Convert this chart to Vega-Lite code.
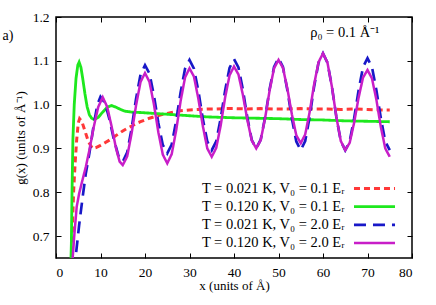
{
  "$schema": "https://vega.github.io/schema/vega-lite/v6.json",
  "width": 356,
  "height": 241,
  "autosize": {"type": "none"},
  "padding": {"left": 56, "top": 17, "right": 24, "bottom": 47},
  "config": {
    "font": "Liberation Serif",
    "view": {"stroke": "black", "strokeWidth": 1.5},
    "axis": {"grid": false, "domain": false, "tickColor": "black", "tickSize": -5, "tickWidth": 1, "labelFont": "Liberation Serif", "titleFont": "Liberation Serif", "labelFontSize": 13.5, "labelColor": "black", "titleFontSize": 13, "titleFontWeight": "normal", "titleColor": "black", "labelPadding": 12},
    "legend": {"labelFont": "Liberation Serif"},
    "text": {"font": "Liberation Serif"}
  },
  "resolve": {"axis": {"x": "independent", "y": "independent"}},
  "layer": [
    {
      "data": {"values": [
        {"s":"a","x":3.5,"y":0.64},{"s":"a","x":3.75,"y":0.737},{"s":"a","x":3.95,"y":0.8},{"s":"a","x":4.3,"y":0.867},{"s":"a","x":4.65,"y":0.92},{"s":"a","x":5.0,"y":0.958},{"s":"a","x":5.3,"y":0.968},{"s":"a","x":5.8,"y":0.962},{"s":"a","x":6.5,"y":0.94},{"s":"a","x":7.3,"y":0.915},{"s":"a","x":8.2,"y":0.9},{"s":"a","x":9,"y":0.902},{"s":"a","x":10,"y":0.907},{"s":"a","x":11,"y":0.913},{"s":"a","x":12,"y":0.919},{"s":"a","x":13,"y":0.926},{"s":"a","x":14,"y":0.933},{"s":"a","x":15,"y":0.94},{"s":"a","x":16,"y":0.946},{"s":"a","x":17,"y":0.951},{"s":"a","x":18,"y":0.957},{"s":"a","x":19,"y":0.961},{"s":"a","x":20,"y":0.965},{"s":"a","x":21,"y":0.969},{"s":"a","x":22,"y":0.972},{"s":"a","x":23,"y":0.975},{"s":"a","x":24,"y":0.978},{"s":"a","x":25,"y":0.98},{"s":"a","x":26,"y":0.982},{"s":"a","x":27,"y":0.984},{"s":"a","x":28,"y":0.986},{"s":"a","x":29,"y":0.987},{"s":"a","x":30,"y":0.988},{"s":"a","x":32,"y":0.989},{"s":"a","x":34,"y":0.99},{"s":"a","x":36,"y":0.99},{"s":"a","x":38,"y":0.991},{"s":"a","x":40,"y":0.991},{"s":"a","x":43,"y":0.99},{"s":"a","x":46,"y":0.991},{"s":"a","x":49,"y":0.99},{"s":"a","x":52,"y":0.99},{"s":"a","x":55,"y":0.991},{"s":"a","x":58,"y":0.99},{"s":"a","x":61,"y":0.99},{"s":"a","x":64,"y":0.989},{"s":"a","x":67,"y":0.99},{"s":"a","x":70,"y":0.989},{"s":"a","x":73,"y":0.988},{"s":"a","x":75,"y":0.988},

        {"s":"b","x":3.3,"y":0.62},{"s":"b","x":3.45,"y":0.68},{"s":"b","x":3.6,"y":0.8},{"s":"b","x":3.8,"y":0.92},{"s":"b","x":4.1,"y":1.0},{"s":"b","x":4.5,"y":1.06},{"s":"b","x":4.9,"y":1.09},{"s":"b","x":5.2,"y":1.097},{"s":"b","x":5.6,"y":1.085},{"s":"b","x":6.0,"y":1.06},{"s":"b","x":6.5,"y":1.025},{"s":"b","x":7.0,"y":0.995},{"s":"b","x":7.5,"y":0.977},{"s":"b","x":8.0,"y":0.969},{"s":"b","x":8.6,"y":0.966},{"s":"b","x":9.5,"y":0.971},{"s":"b","x":10.5,"y":0.983},{"s":"b","x":11.5,"y":0.994},{"s":"b","x":12.5,"y":0.998},{"s":"b","x":13.5,"y":0.994},{"s":"b","x":14.5,"y":0.989},{"s":"b","x":15.5,"y":0.985},{"s":"b","x":17,"y":0.983},{"s":"b","x":19,"y":0.982},{"s":"b","x":22,"y":0.98},{"s":"b","x":25,"y":0.978},{"s":"b","x":28,"y":0.976},{"s":"b","x":31,"y":0.974},{"s":"b","x":34,"y":0.972},{"s":"b","x":37,"y":0.971},{"s":"b","x":40,"y":0.97},{"s":"b","x":45,"y":0.969},{"s":"b","x":50,"y":0.968},{"s":"b","x":55,"y":0.966},{"s":"b","x":60,"y":0.965},{"s":"b","x":65,"y":0.963},{"s":"b","x":70,"y":0.962},{"s":"b","x":75,"y":0.961},

        {"s":"c","x":4.2,"y":0.62},{"s":"c","x":4.5,"y":0.66},{"s":"c","x":5.2,"y":0.725},{"s":"c","x":6,"y":0.79},{"s":"c","x":6.7,"y":0.843},{"s":"c","x":7.5,"y":0.889},{"s":"c","x":8.5,"y":0.955},{"s":"c","x":9.3,"y":1.0},{"s":"c","x":10,"y":1.018},{"s":"c","x":11,"y":1.004},{"s":"c","x":12,"y":0.967},{"s":"c","x":13,"y":0.921},{"s":"c","x":14,"y":0.884},{"s":"c","x":15,"y":0.87},{"s":"c","x":16,"y":0.891},{"s":"c","x":17,"y":0.946},{"s":"c","x":18,"y":1.014},{"s":"c","x":19,"y":1.069},{"s":"c","x":20,"y":1.09},{"s":"c","x":21,"y":1.071},{"s":"c","x":22,"y":1.021},{"s":"c","x":23,"y":0.958},{"s":"c","x":24,"y":0.908},{"s":"c","x":25,"y":0.889},{"s":"c","x":26,"y":0.909},{"s":"c","x":27,"y":0.963},{"s":"c","x":28,"y":1.028},{"s":"c","x":29,"y":1.082},{"s":"c","x":30,"y":1.102},{"s":"c","x":31,"y":1.082},{"s":"c","x":32,"y":1.031},{"s":"c","x":33,"y":0.967},{"s":"c","x":34,"y":0.916},{"s":"c","x":35,"y":0.896},{"s":"c","x":36,"y":0.916},{"s":"c","x":37,"y":0.968},{"s":"c","x":38,"y":1.032},{"s":"c","x":39,"y":1.084},{"s":"c","x":40,"y":1.104},{"s":"c","x":41,"y":1.085},{"s":"c","x":42,"y":1.034},{"s":"c","x":43,"y":0.97},{"s":"c","x":44,"y":0.919},{"s":"c","x":45,"y":0.9},{"s":"c","x":46,"y":0.92},{"s":"c","x":47,"y":0.971},{"s":"c","x":48,"y":1.035},{"s":"c","x":49,"y":1.086},{"s":"c","x":50,"y":1.106},{"s":"c","x":51,"y":1.086},{"s":"c","x":52,"y":1.033},{"s":"c","x":53,"y":0.969},{"s":"c","x":54,"y":0.916},{"s":"c","x":55,"y":0.896},{"s":"c","x":56,"y":0.917},{"s":"c","x":57,"y":0.972},{"s":"c","x":58,"y":1.041},{"s":"c","x":59,"y":1.096},{"s":"c","x":60,"y":1.117},{"s":"c","x":61,"y":1.096},{"s":"c","x":62,"y":1.041},{"s":"c","x":63,"y":0.972},{"s":"c","x":64,"y":0.917},{"s":"c","x":65,"y":0.896},{"s":"c","x":66,"y":0.916},{"s":"c","x":67,"y":0.969},{"s":"c","x":68,"y":1.033},{"s":"c","x":69,"y":1.086},{"s":"c","x":70,"y":1.106},{"s":"c","x":71,"y":1.086},{"s":"c","x":72,"y":1.033},{"s":"c","x":73,"y":0.969},{"s":"c","x":74,"y":0.916},{"s":"c","x":75,"y":0.896},

        {"s":"d","x":3.6,"y":0.62},{"s":"d","x":3.75,"y":0.65},{"s":"d","x":4.1,"y":0.7},{"s":"d","x":4.65,"y":0.767},{"s":"d","x":5.2,"y":0.797},{"s":"d","x":6,"y":0.83},{"s":"d","x":6.7,"y":0.858},{"s":"d","x":7.5,"y":0.896},{"s":"d","x":8.5,"y":0.95},{"s":"d","x":9.5,"y":0.995},{"s":"d","x":10.5,"y":1.017},{"s":"d","x":11.5,"y":0.995},{"s":"d","x":12.5,"y":0.95},{"s":"d","x":13.5,"y":0.9},{"s":"d","x":14.3,"y":0.87},{"s":"d","x":15,"y":0.862},{"s":"d","x":16,"y":0.882},{"s":"d","x":17,"y":0.935},{"s":"d","x":18,"y":0.999},{"s":"d","x":19,"y":1.052},{"s":"d","x":20,"y":1.072},{"s":"d","x":21,"y":1.052},{"s":"d","x":22,"y":1.001},{"s":"d","x":23,"y":0.937},{"s":"d","x":24,"y":0.886},{"s":"d","x":25,"y":0.866},{"s":"d","x":26,"y":0.887},{"s":"d","x":27,"y":0.941},{"s":"d","x":28,"y":1.008},{"s":"d","x":29,"y":1.062},{"s":"d","x":30,"y":1.083},{"s":"d","x":31,"y":1.064},{"s":"d","x":32,"y":1.013},{"s":"d","x":33,"y":0.951},{"s":"d","x":34,"y":0.9},{"s":"d","x":35,"y":0.881},{"s":"d","x":36,"y":0.901},{"s":"d","x":37,"y":0.952},{"s":"d","x":38,"y":1.016},{"s":"d","x":39,"y":1.067},{"s":"d","x":40,"y":1.087},{"s":"d","x":41,"y":1.069},{"s":"d","x":42,"y":1.022},{"s":"d","x":43,"y":0.965},{"s":"d","x":44,"y":0.918},{"s":"d","x":45,"y":0.9},{"s":"d","x":46,"y":0.919},{"s":"d","x":47,"y":0.97},{"s":"d","x":48,"y":1.032},{"s":"d","x":49,"y":1.083},{"s":"d","x":50,"y":1.102},{"s":"d","x":51,"y":1.084},{"s":"d","x":52,"y":1.036},{"s":"d","x":53,"y":0.978},{"s":"d","x":54,"y":0.93},{"s":"d","x":55,"y":0.912},{"s":"d","x":56,"y":0.932},{"s":"d","x":57,"y":0.983},{"s":"d","x":58,"y":1.046},{"s":"d","x":59,"y":1.097},{"s":"d","x":60,"y":1.117},{"s":"d","x":61,"y":1.096},{"s":"d","x":62,"y":1.041},{"s":"d","x":63,"y":0.972},{"s":"d","x":64,"y":0.917},{"s":"d","x":65,"y":0.896},{"s":"d","x":66,"y":0.913},{"s":"d","x":67,"y":0.959},{"s":"d","x":68,"y":1.016},{"s":"d","x":69,"y":1.062},{"s":"d","x":70,"y":1.079},{"s":"d","x":71,"y":1.06},{"s":"d","x":72,"y":1.011},{"s":"d","x":73,"y":0.949},{"s":"d","x":74,"y":0.9},{"s":"d","x":75,"y":0.881}
      ]},
      "mark": {"type": "line", "clip": true},
      "encoding": {
        "x": {"field": "x", "type": "quantitative", "scale": {"domain": [0, 80], "nice": false}, "axis": {"orient": "bottom", "values": [0,10,20,30,40,50,60,70,80], "title": "x (units of Å)", "titlePadding": 1}},
        "y": {"field": "y", "type": "quantitative", "scale": {"domain": [0.65, 1.2], "nice": false, "zero": false}, "axis": {"orient": "left", "values": [0.7,0.8,0.9,1.0,1.1,1.2], "format": ".1f", "title": "g(x) (units of Å⁻¹)", "titlePadding": 5}},
        "color": {"field": "s", "type": "nominal", "scale": {"domain": ["a","b","c","d"], "range": ["#ff3838", "#1ee81e", "#1818c8", "#c81ec8"]},
          "legend": {"orient": "none", "legendX": 310, "legendY": 163, "title": null, "padding": 0, "symbolType": "M-3,0H3", "symbolSize": 187, "symbolStrokeWidth": 2, "labelAlign": "right", "labelOffset": -38.5, "labelFontSize": 14.5, "labelFont": "Liberation Serif", "labelColor": "black", "labelLimit": 400, "rowPadding": 3.2,
            "labelExpr": "datum.value == 'a' ? 'T = 0.021 K, V₀ = 0.1 Eᵣ' : datum.value == 'b' ? 'T = 0.120 K, V₀ = 0.1 Eᵣ' : datum.value == 'c' ? 'T = 0.021 K, V₀ = 2.0 Eᵣ' : 'T = 0.120 K, V₀ = 2.0 Eᵣ'",
            "symbolOpacity": 1,
            "encode": {"symbols": {"update": {"strokeDash": {"signal": "datum.value == 'a' || datum.value == 'c' ? [14, 14] : [1, 0]"}}}}}},
        "strokeDash": {"field": "s", "type": "nominal", "scale": {"domain": ["a","b","c","d"], "range": [[6,4],[1,0],[12,7],[1,0]]}, "legend": null},
        "strokeWidth": {"field": "s", "type": "nominal", "scale": {"domain": ["a","b","c","d"], "range": [3, 2.5, 2.5, 1.8]}, "legend": null}
      }
    },
    {
      "data": {"values": [{}]},
      "mark": {"type": "text", "fontSize": 14.5, "font": "Liberation Serif", "align": "center", "baseline": "middle", "color": "black"},
      "encoding": {
        "x": {"datum": 64.9, "type": "quantitative", "axis": {"orient": "top", "values": [0,10,20,30,40,50,60,70,80], "labels": false, "title": null}},
        "y": {"datum": 1.163, "type": "quantitative", "axis": {"orient": "right", "values": [0.7,0.8,0.9,1.0,1.1,1.2], "labels": false, "title": null}},
        "text": {"value": "ρ₀ = 0.1 Å⁻¹"}
      }
    },
    {
      "data": {"values": [{}]},
      "mark": {"type": "text", "fontSize": 14, "font": "Liberation Serif", "align": "left", "baseline": "middle", "color": "black", "clip": false},
      "encoding": {
        "x": {"datum": -12, "type": "quantitative", "axis": null},
        "y": {"datum": 1.157, "type": "quantitative", "axis": null},
        "text": {"value": "a)"}
      }
    }
  ]
}
